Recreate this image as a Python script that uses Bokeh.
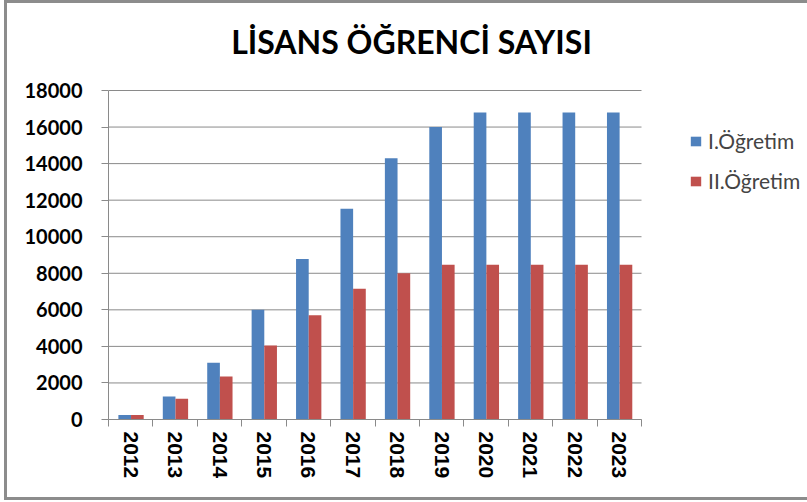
from bokeh.plotting import figure
from bokeh.models import (Range1d, LinearAxis, FixedTicker,
                          Legend, LegendItem, ColumnDataSource, Label)
from bokeh.transform import dodge
from bokeh.embed import file_html
from bokeh.resources import INLINE

years = ["2012", "2013", "2014", "2015", "2016", "2017",
         "2018", "2019", "2020", "2021", "2022", "2023"]
birinci_ogretim = [250, 1260, 3100, 6000, 8780, 11530, 14300, 16000, 16800, 16800, 16800, 16800]
ikinci_ogretim = [250, 1130, 2350, 4050, 5700, 7150, 8000, 8470, 8470, 8470, 8470, 8470]
y_ticks = [0, 2000, 4000, 6000, 8000, 10000, 12000, 14000, 16000, 18000]
series_names = ["I.Öğretim", "II.Öğretim"]
title_text = "LİSANS ÖĞRENCİ SAYISI"

BLUE = "#4F81BD"
RED = "#C0504D"
GRAY = "#8a8a8a"

n = len(years)
y_max = y_ticks[-1]
# category slot centres (category i occupies [i, i+1] on the x scale)
pos = [i + 0.5 for i in range(n)]
bounds = list(range(n + 1))
src = ColumnDataSource(dict(pos=pos, year=years, a=birinci_ogretim, b=ikinci_ogretim))

# The frame is enlarged to the right and upwards so that the legend and the
# title can be drawn inside it: the category area is 533 x 329 px of a
# 699 x 416 px frame.
p = figure(x_range=Range1d(0, n * 699 / 533), y_range=Range1d(0, y_max * 416 / 329),
           width=800, height=494, output_backend="svg", toolbar_location=None,
           title_location=None, x_axis_location=None,
           min_border_left=101, min_border_top=0,
           min_border_right=0, min_border_bottom=78)
p.styles = {"margin-left": "7px", "margin-top": "3px", "outline": "3px solid #8c8c8c"}
p.outline_line_color = None
p.background_fill_color = "white"
p.border_fill_color = "white"
p.xgrid.grid_line_color = None
p.ygrid.grid_line_color = None

# horizontal grid lines over the category area only
p.segment(x0=0, x1=n, y0=y_ticks, y1=y_ticks, line_color=GRAY, line_width=1)

r1 = p.vbar(x=dodge("pos", -0.135), top="a", width=0.285, source=src,
            fill_color=BLUE, line_color=None)
r2 = p.vbar(x=dodge("pos", 0.15), top="b", width=0.285, source=src,
            fill_color=RED, line_color=None)

# y axis
p.yaxis.ticker = FixedTicker(ticks=y_ticks)
p.yaxis.bounds = (0, y_max)
p.yaxis.axis_line_color = GRAY
p.yaxis.major_tick_line_color = GRAY
p.yaxis.major_tick_out = 7
p.yaxis.major_tick_in = 0
p.yaxis.minor_tick_line_color = None
p.yaxis.major_label_text_font = "Lato"
p.yaxis.major_label_text_font_style = "bold"
p.yaxis.major_label_text_font_size = "20px"
p.yaxis.major_label_text_color = "black"
p.yaxis.major_label_standoff = 19

# x axis: labels at slot centres, tick marks (minor) at slot boundaries
xaxis = LinearAxis(ticker=FixedTicker(ticks=pos, minor_ticks=bounds), bounds=(0, n),
                   major_label_overrides={x: y for x, y in zip(pos, years)},
                   axis_line_color=GRAY, major_tick_line_color=None,
                   major_tick_out=0, major_tick_in=0,
                   minor_tick_line_color=GRAY, minor_tick_out=7, minor_tick_in=0,
                   major_label_orientation="vertical", major_label_standoff=5,
                   major_label_text_font="Liberation Sans",
                   major_label_text_font_style="bold",
                   major_label_text_font_size="21px",
                   major_label_text_color="black")
p.add_layout(xaxis, "below")

# legend (screen offsets from the frame's bottom-left)
legend = Legend(items=[LegendItem(label=series_names[0], renderers=[r1]),
                       LegendItem(label=series_names[1], renderers=[r2])],
                location=(581, 226), glyph_width=13, glyph_height=12,
                label_text_font="Lato", label_text_font_size="21px",
                label_standoff=6, spacing=15, padding=0, margin=0,
                border_line_color=None, background_fill_alpha=0)
p.add_layout(legend, "center")

# title (screen offsets from the frame's bottom-left)
p.add_layout(Label(x=303, y=378, x_units="screen", y_units="screen", text=title_text,
                   text_align="center", text_baseline="alphabetic",
                   text_font="Lato", text_font_style="bold", text_font_size="32px",
                   text_color="black"))

open("out.html", "w").write(file_html(p, INLINE))
